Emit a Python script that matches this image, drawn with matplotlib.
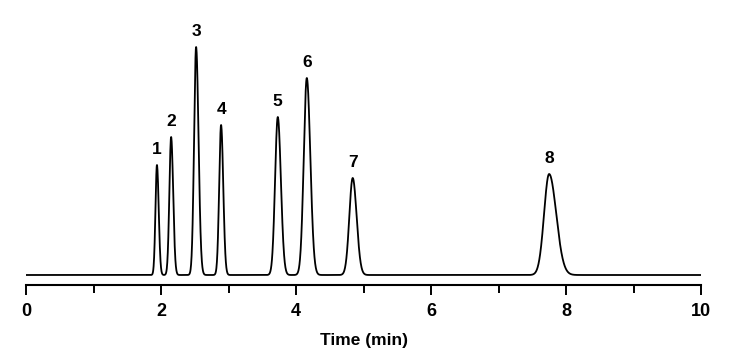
import numpy as np
import matplotlib
matplotlib.use("Agg")
import matplotlib.pyplot as plt
from matplotlib.ticker import MultipleLocator

plt.rcParams['font.family'] = ['Liberation Sans', 'DejaVu Sans']

# Peak table
peak_labels = ["1", "2", "3", "4", "5", "6", "7", "8"]
retention = [1.94, 2.15, 2.52, 2.89, 3.73, 4.16, 4.84, 7.75]   # min
heights = [110, 138, 228, 150, 158, 197, 97, 101]              # detector response (a.u.)
sigma_left = [0.022, 0.026, 0.030, 0.028, 0.040, 0.045, 0.050, 0.075]
sigma_right = [0.026, 0.030, 0.036, 0.032, 0.046, 0.052, 0.058, 0.105]

t = np.linspace(0, 10, 4000)
signal = np.zeros_like(t)
for rt, h, sl, sr in zip(retention, heights, sigma_left, sigma_right):
    s = np.where(t < rt, sl, sr)
    signal += h * np.exp(-0.5 * ((t - rt) / s) ** 2)

fig = plt.figure(figsize=(7.29, 3.57), dpi=100)
ax = fig.add_axes([26 / 729, 72 / 357, 675 / 729, 265 / 357])

ax.plot(t, signal, color='black', linewidth=1.3)

for lab, rt, h in zip(peak_labels, retention, heights):
    ax.annotate(lab, (rt, h), xytext=(0, 6), textcoords='offset points',
                ha='center', va='bottom', fontsize=12.5, fontweight='bold')

ax.set_xlim(0, 10)
ax.set_ylim(-10, 255)
ax.xaxis.set_major_locator(MultipleLocator(2))
ax.xaxis.set_minor_locator(MultipleLocator(1))
ax.tick_params(axis='x', which='both', direction='out', width=1.4, labelsize=13)
ax.tick_params(axis='x', which='major', length=7, pad=6)
ax.tick_params(axis='x', which='minor', length=6)
for lbl in ax.get_xticklabels():
    lbl.set_fontweight('bold')
ax.set_yticks([])
for side in ['top', 'right', 'left']:
    ax.spines[side].set_visible(False)
ax.spines['bottom'].set_linewidth(1.5)
ax.set_xlabel("Time (min)", fontsize=12.5, fontweight='bold', labelpad=9)

fig.savefig("out.png", dpi=100)
